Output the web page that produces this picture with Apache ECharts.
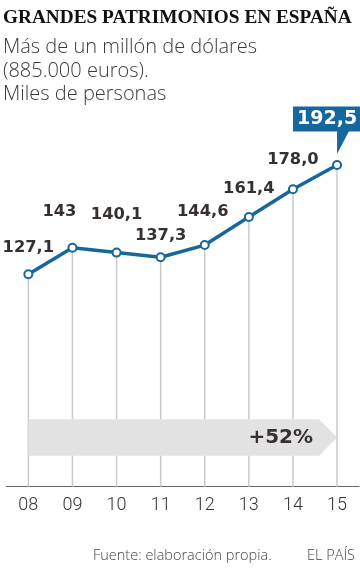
<!DOCTYPE html>
<html>
<head>
<meta charset="utf-8">
<script src="https://cdn.jsdelivr.net/npm/echarts@6/dist/echarts.min.js"></script>
<style>
html,body{margin:0;padding:0;background:#fff;}
#chart{width:360px;height:569px;}
</style>
</head>
<body>
<div id="chart"></div>
<script>
// ---- data ----
const years = ['08', '09', '10', '11', '12', '13', '14', '15'];
const values = [127.1, 143, 140.1, 137.3, 144.6, 161.4, 178.0, 192.5];
const valueLabels = ['127,1', '143', '140,1', '137,3', '144,6', '161,4', '178,0', '192,5'];
const changeLabel = '+52%';

// ---- layout config (label nudges, px) ----
const labelNudge = [[0, -27], [-13, -36], [0, -38], [0, -21], [-2, -33], [0, -28], [0, -29], [-10, -46]];

const BLUE = '#15679e';
const DARK = '#36302f';
const last = values.length - 1;

const chart = echarts.init(document.getElementById('chart'), null, {renderer: 'canvas'});

const lineData = values.map((v, i) => {
  const item = {
    value: v,
    label: {
      show: true,
      position: 'inside',
      align: 'center',
      verticalAlign: 'middle',
      formatter: valueLabels[i],
      color: DARK,
      fontFamily: 'DejaVu Sans',
      fontWeight: 'bold',
      fontSize: 16.3
    }
  };
  if (i === last) {
    item.label.color = '#fff';
    item.label.fontSize = 19;
    item.label.lineHeight = 19;
    item.label.backgroundColor = BLUE;
    item.label.padding = [3, 4, 3, 4];
  }
  return item;
});

const sideText = {fontFamily: 'Open Sans', fontWeight: 300, color: '#444'};

const option = {
  animation: false,
  backgroundColor: '#fff',
  title: [
    {
      text: 'GRANDES PATRIMONIOS EN ESPAÑA',
      left: 3, top: 8.5, padding: 0,
      textStyle: {fontFamily: 'Liberation Serif', fontWeight: 'bold', fontSize: 19.3, color: '#111', lineHeight: 19}
    },
    {
      text: 'Más de un millón de dólares\n(885.000 euros).\nMiles de personas',
      left: 3, top: 36, padding: 0,
      textStyle: Object.assign({}, sideText, {fontSize: 20, color: '#3a3a3a', lineHeight: 23.4})
    },
    {
      text: 'Fuente: elaboración propia.',
      left: 93, top: 547.5, padding: 0,
      textStyle: Object.assign({}, sideText, {fontSize: 14.5, lineHeight: 16})
    },
    {
      text: 'EL PAÍS',
      right: 5, top: 547.5, padding: 0,
      textStyle: Object.assign({}, sideText, {fontSize: 14.5, lineHeight: 16})
    }
  ],
  grid: {left: 6.3, right: 0.9, top: 152.5, bottom: 82.3, containLabel: false},
  xAxis: {
    type: 'category',
    data: years,
    boundaryGap: true,
    axisLine: {show: true, lineStyle: {color: '#666', width: 1}},
    axisTick: {show: false},
    axisLabel: {margin: 10, color: '#333', fontFamily: 'Roboto', fontWeight: 300, fontSize: 18},
    splitLine: {show: false}
  },
  yAxis: {
    type: 'value',
    min: 0, max: 200,
    show: false,
    splitLine: {show: false}
  },
  series: [
    {
      type: 'bar',
      data: values,
      barWidth: 1.5,
      itemStyle: {color: '#c9c9c9'},
      silent: true,
      z: 1
    },
    {
      type: 'custom',
      z: 2,
      silent: true,
      data: [[0, 0]],
      renderItem: function (params, api) {
        const start = api.coord([0, 0]);
        const tip = api.coord([last, 0]);
        const axisY = start[1];
        const top = axisY - 67.4, bottom = axisY - 31;
        const mid = (top + bottom) / 2;
        const head = tip[0] - 18;
        return {
          type: 'group',
          children: [
            {
              type: 'polygon',
              shape: {points: [[start[0], top], [head, top], [tip[0], mid], [head, bottom], [start[0], bottom]]},
              style: {fill: '#e2e2e2'}
            },
            {
              type: 'text',
              style: {
                text: changeLabel,
                x: tip[0] - 24, y: mid + 0.5,
                align: 'right', verticalAlign: 'middle',
                fill: DARK,
                font: 'bold 20px "DejaVu Sans"'
              }
            }
          ]
        };
      }
    },
    {
      type: 'custom',
      z: 4,
      silent: true,
      data: [[last, values[last]]],
      renderItem: function (params, api) {
        const p = api.coord([api.value(0), api.value(1)]);
        return {
          type: 'polygon',
          shape: {points: [[p[0], p[1] - 34], [p[0] + 12, p[1] - 34], [p[0], p[1] - 11]]},
          style: {fill: BLUE}
        };
      }
    },
    {
      type: 'line',
      z: 5,
      data: lineData,
      symbol: 'circle',
      symbolSize: 8,
      lineStyle: {color: BLUE, width: 3.5},
      itemStyle: {color: '#fff', borderColor: BLUE, borderWidth: 2},
      labelLayout: function (params) {
        const n = labelNudge[params.dataIndex];
        return {dx: n[0], dy: n[1], hideOverlap: false};
      }
    }
  ]
};
chart.setOption(option);
</script>
</body>
</html>
